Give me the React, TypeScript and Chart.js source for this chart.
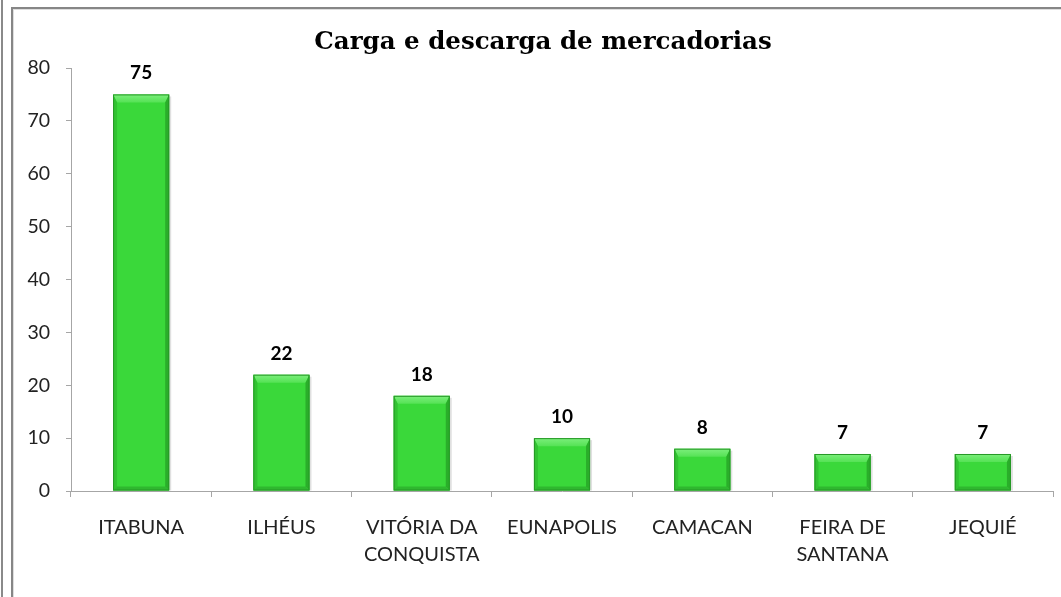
import React, { useEffect, useRef } from 'react';
import { Chart, registerables } from 'chart.js';

Chart.register(...registerables);

const TITLE = 'Carga e descarga de mercadorias';
const categories: string[][] = [
  ['ITABUNA'],
  ['ILHÉUS'],
  ['VITÓRIA DA', 'CONQUISTA'],
  ['EUNAPOLIS'],
  ['CAMACAN'],
  ['FEIRA DE', 'SANTANA'],
  ['JEQUIÉ'],
];
const values = [75, 22, 18, 10, 8, 7, 7];
const Y_MIN = 0;
const Y_MAX = 80;
const Y_STEP = 10;

const AXIS_COLOR = '#a6a6a6';
const TEXT_COLOR = '#222222';
const BAR_COLOR = '#3ad83a';

const barStylePlugin = {
  id: 'barStyle',
  beforeDatasetsDraw(chart: any) {
    const ctx = chart.ctx;
    const meta = chart.getDatasetMeta(0);
    ctx.save();
    meta.data.forEach((el: any) => {
      const { x, y, base, width } = el.getProps(['x', 'y', 'base', 'width'], true);
      const l = x - width / 2;
      ctx.fillStyle = 'rgba(0,0,0,0.12)';
      ctx.fillRect(l + 2, y + 2, width, base - y - 2);
    });
    ctx.restore();
  },
  afterDatasetsDraw(chart: any) {
    const ctx = chart.ctx;
    const meta = chart.getDatasetMeta(0);
    ctx.save();
    meta.data.forEach((el: any, i: number) => {
      const { x, y, base, width } = el.getProps(['x', 'y', 'base', 'width'], true);
      const l = x - width / 2;
      const r = x + width / 2;
      const t = y;
      const b = base;
      const bt = Math.min(8, (b - t) / 2);
      const bs = 4;
      const bb = Math.min(4, (b - t) / 3);
      // top bevel
      const gTop = ctx.createLinearGradient(0, t, 0, t + bt);
      gTop.addColorStop(0, '#7cef7c');
      gTop.addColorStop(1, '#55e255');
      ctx.fillStyle = gTop;
      ctx.beginPath();
      ctx.moveTo(l, t);
      ctx.lineTo(r, t);
      ctx.lineTo(r - bs, t + bt);
      ctx.lineTo(l + bs, t + bt);
      ctx.closePath();
      ctx.fill();
      // left bevel
      ctx.fillStyle = '#32c232';
      ctx.beginPath();
      ctx.moveTo(l, t);
      ctx.lineTo(l + bs, t + bt);
      ctx.lineTo(l + bs, b - bb);
      ctx.lineTo(l, b);
      ctx.closePath();
      ctx.fill();
      // right bevel
      ctx.fillStyle = '#2aae2a';
      ctx.beginPath();
      ctx.moveTo(r, t);
      ctx.lineTo(r - bs, t + bt);
      ctx.lineTo(r - bs, b - bb);
      ctx.lineTo(r, b);
      ctx.closePath();
      ctx.fill();
      // bottom bevel
      ctx.fillStyle = '#2fb82f';
      ctx.beginPath();
      ctx.moveTo(l, b);
      ctx.lineTo(l + bs, b - bb);
      ctx.lineTo(r - bs, b - bb);
      ctx.lineTo(r, b);
      ctx.closePath();
      ctx.fill();
      // outline
      ctx.strokeStyle = '#279827';
      ctx.lineWidth = 1;
      ctx.strokeRect(l + 0.5, t + 0.5, width - 1, b - t - 1);
      // value label
      ctx.fillStyle = '#000';
      ctx.font = 'bold 19px Lato';
      ctx.textAlign = 'center';
      ctx.textBaseline = 'alphabetic';
      ctx.fillText(String(values[i]), x, t - 15);
    });
    ctx.restore();
  },
};

const titlePlugin = {
  id: 'customTitle',
  afterDraw(chart: any) {
    const ctx = chart.ctx;
    ctx.save();
    ctx.fillStyle = '#000';
    ctx.font = 'bold 24.5px "DejaVu Serif"';
    ctx.textAlign = 'center';
    ctx.textBaseline = 'alphabetic';
    ctx.fillText(TITLE, chart.width / 2, 40);
    ctx.restore();
  },
};

export default function App() {
  const ref = useRef<HTMLCanvasElement | null>(null);
  useEffect(() => {
    if (!ref.current) return;
    const chart = new Chart(ref.current, {
      type: 'bar',
      data: {
        labels: categories,
        datasets: [
          {
            data: values,
            backgroundColor: BAR_COLOR,
            borderWidth: 0,
            categoryPercentage: 1,
            barPercentage: 0.4,
          },
        ],
      },
      options: {
        responsive: false,
        animation: false,
        devicePixelRatio: 1,
        layout: { padding: { left: 0, right: 20, top: 59, bottom: 0 } },
        plugins: {
          legend: { display: false },
          tooltip: { enabled: false },
          title: { display: false },
        },
        scales: {
          x: {
            grid: {
              display: true,
              drawOnChartArea: false,
              drawTicks: true,
              tickLength: 6,
              color: AXIS_COLOR,
              offset: true,
            },
            border: { display: true, color: AXIS_COLOR },
            ticks: {
              font: { family: 'Lato', size: 20, lineHeight: 1.35 },
              color: TEXT_COLOR,
              padding: 17,
              maxRotation: 0,
              autoSkip: false,
            },
            afterFit: (s: any) => {
              s.height = 106;
            },
          },
          y: {
            min: Y_MIN,
            max: Y_MAX,
            ticks: {
              stepSize: Y_STEP,
              font: { family: 'Lato', size: 19.5 },
              color: TEXT_COLOR,
              padding: 16,
            },
            grid: {
              display: true,
              drawOnChartArea: false,
              tickLength: 5,
              color: AXIS_COLOR,
            },
            border: { display: true, color: AXIS_COLOR },
            afterFit: (s: any) => {
              s.width = 58;
            },
          },
        },
      },
      plugins: [barStylePlugin, titlePlugin],
    } as any);
    return () => chart.destroy();
  }, []);

  return (
    <div
      style={{
        position: 'fixed',
        left: 0,
        top: 0,
        width: 1061,
        height: 597,
        overflow: 'hidden',
        background: '#fff',
      }}
    >
      <div
        style={{
          position: 'absolute',
          left: 1,
          top: 0,
          width: 2,
          height: 597,
          background: '#8a8a8a',
        }}
      />
      <div
        style={{
          position: 'absolute',
          left: 11,
          top: 7,
          width: 1100,
          height: 650,
          borderTop: '2px solid #868686',
          borderLeft: '2px solid #868686',
          boxShadow: 'inset 1px 1px 0 #dedede',
        }}
      />
      <canvas
        ref={ref}
        width={1060}
        height={588}
        style={{ position: 'absolute', left: 13, top: 9, width: 1060, height: 588 }}
      />
    </div>
  );
}
